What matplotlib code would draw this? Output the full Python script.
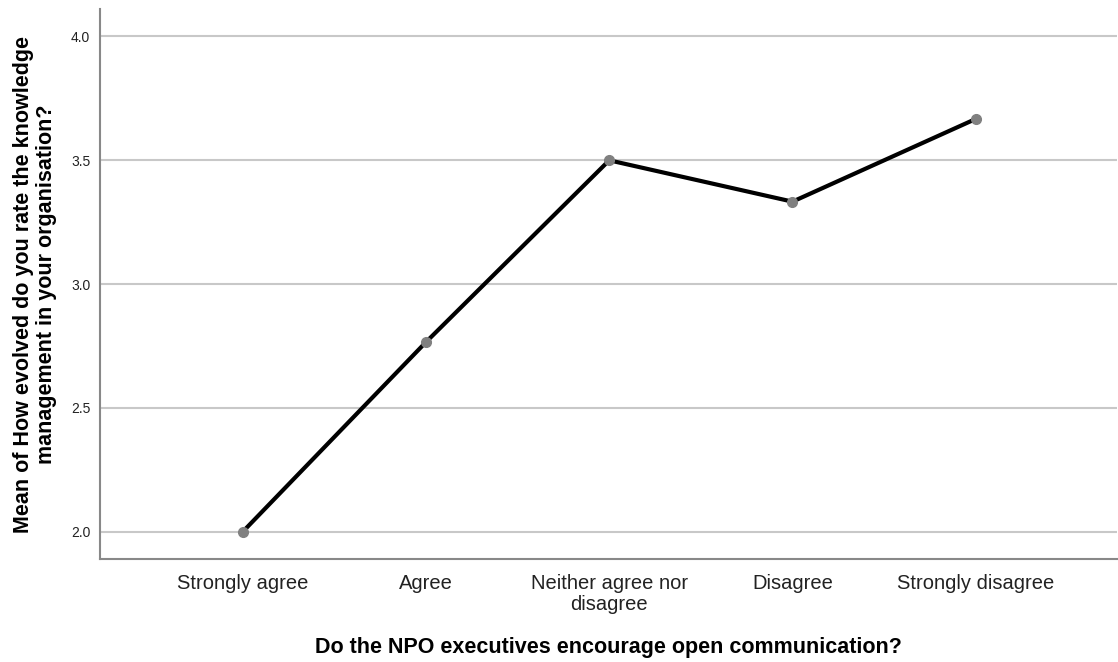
import matplotlib
matplotlib.use("Agg")
import matplotlib.pyplot as plt

plt.rcParams['font.family'] = ['Liberation Sans', 'DejaVu Sans']

# data
categories = ['Strongly agree', 'Agree', 'Neither agree nor\ndisagree', 'Disagree', 'Strongly disagree']
means = [2.0, 2.766, 3.5, 3.333, 3.667]
yticks = [2.0, 2.5, 3.0, 3.5, 4.0]

fig = plt.figure(figsize=(11.18, 6.62), dpi=100)
ax = fig.add_axes([100 / 1118, 1 - 559 / 662, 1017 / 1118, (559 - 9.5) / 662])

x = list(range(len(categories)))
ax.plot(x, means, color='black', linewidth=3, marker='o', markersize=7,
        markerfacecolor='#808080', markeredgecolor='#808080', zorder=3)

ax.set_xlim(-0.779, 4.771)
ax.set_ylim(1.89, 4.109)
ax.set_yticks(yticks)
ax.set_yticklabels([f'{v:.1f}' for v in yticks], fontsize=10, color='#222222')
ax.set_xticks(x)
ax.set_xticklabels(categories, fontsize=14.5, color='#222222', linespacing=1.1)
ax.tick_params(axis='y', length=0, pad=7)
ax.tick_params(axis='x', length=0, pad=11)

ax.yaxis.grid(True, color='#c8c8c8', linewidth=1.5)
ax.set_axisbelow(True)
for s in ['top', 'right']:
    ax.spines[s].set_visible(False)
for s in ['left', 'bottom']:
    ax.spines[s].set_color('#888888')
    ax.spines[s].set_linewidth(1.5)

ax.set_xlabel('Do the NPO executives encourage open communication?',
              fontsize=15.5, fontweight='bold', labelpad=17)
ax.set_ylabel('Mean of How evolved do you rate the knowledge\nmanagement in your organisation?',
              fontsize=15.5, fontweight='bold', labelpad=10, linespacing=1.1)

fig.savefig('out.png', dpi=100)
